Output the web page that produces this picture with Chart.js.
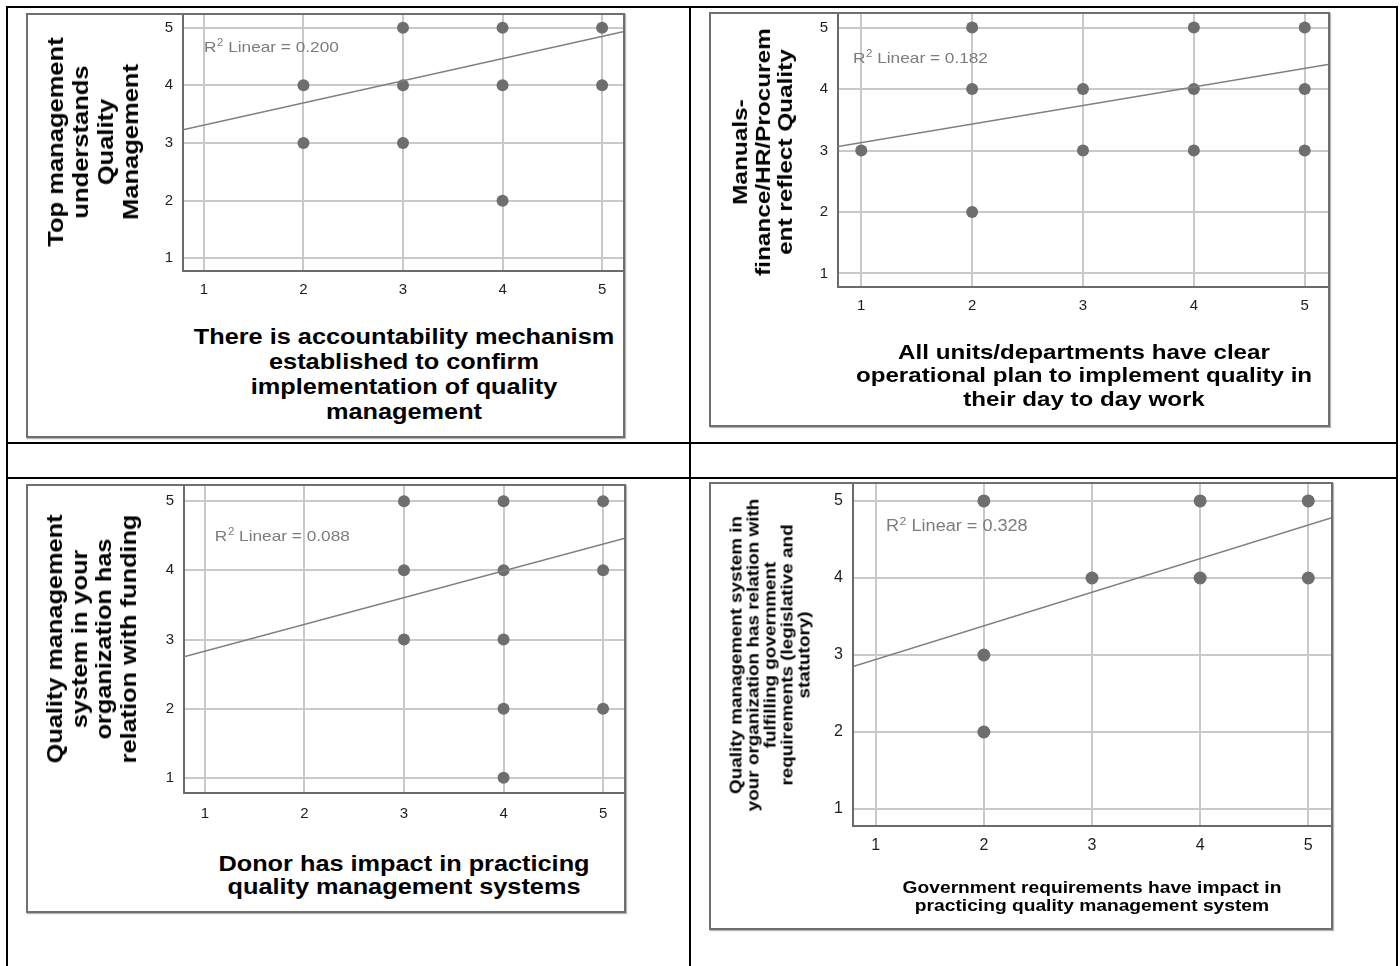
<!DOCTYPE html>
<html>
<head>
<meta charset="utf-8">
<script src="https://cdn.jsdelivr.net/npm/chart.js@4.4.1/dist/chart.umd.min.js"></script>
<style>
  html, body { margin: 0; padding: 0; background: #fff; }
  body { width: 1400px; height: 966px; position: relative; overflow: hidden; font-family: "Liberation Sans", Arial, sans-serif; }
  .rule { position: absolute; background: #000; }
  .frame { position: absolute; box-sizing: border-box; border: 2px solid #6f6f6f; box-shadow: 1px 1px 1px #b5b5b5; }
  .plot { position: absolute; }
  .title { position: absolute; white-space: nowrap; text-align: center; font-weight: bold; color: #000; }
</style>
</head>
<body>
<script>
// ---- data ----
const axisTicks = [1, 2, 3, 4, 5];
const fitX = [0.79, 5.21];

// 1. accountability mechanism vs top management understands QM
const p1X = [2, 2, 3, 3, 3, 4, 4, 4, 5, 5];
const p1Y = [4, 3, 5, 4, 3, 5, 4, 2, 5, 4];
const p1FitY = [3.23, 4.93];

// 2. operational plan vs manuals reflect quality
const p2X = [1, 2, 2, 2, 3, 3, 4, 4, 4, 5, 5, 5];
const p2Y = [3, 5, 4, 2, 4, 3, 5, 4, 3, 5, 4, 3];
const p2FitY = [3.065, 4.40];

// 3. donor impact vs relation with funding
const p3X = [3, 3, 3, 4, 4, 4, 4, 4, 5, 5, 5];
const p3Y = [5, 4, 3, 5, 4, 3, 2, 1, 5, 4, 2];
const p3FitY = [2.75, 4.46];

// 4. government requirements vs fulfilling government requirements
const p4X = [2, 2, 2, 3, 4, 4, 5, 5];
const p4Y = [5, 3, 2, 4, 5, 4, 5, 4];
const p4FitY = [2.85, 4.78];

const r2Values = ['0.200', '0.182', '0.088', '0.328'];

const xTitles = [
  ['There is accountability mechanism', 'established to confirm', 'implementation of quality', 'management'],
  ['All units/departments have clear', 'operational plan to implement quality in', 'their day to day work'],
  ['Donor has impact in practicing', 'quality management systems'],
  ['Government requirements have impact in', 'practicing quality management system']
];
const yTitles = [
  ['Top management', 'understands', 'Quality', 'Management'],
  ['Manuals-', 'finance/HR/Procurem', 'ent reflect Quality'],
  ['Quality management', 'system in your', 'organization has', 'relation with funding'],
  ['Quality management system in', 'your organization has relation with', 'fulfilling government', 'requirements (legislative and', 'statutory)']
];

// ---- layout (page pixels) ----
const panels = [
  { xs: p1X, ys: p1Y, fitY: p1FitY,
    frame: [26, 13, 599, 425], canvas: [120, 15, 503, 305], yW: 63, xH: 49,
    r: 6, tickSize: 15, xPad: 10, yPad: 10,
    r2At: [1.0, 4.57], r2Font: 15, r2Scale: 1.15,
    xt: { cx: 404, cy: 374, size: 22, lh: 25, sx: 1.15 },
    yt: { cx: 93, cy: 142, size: 22, lh: 25, sx: 1.16 } },
  { xs: p2X, ys: p2Y, fitY: p2FitY,
    frame: [709, 12, 621, 415], canvas: [770, 14, 558, 330], yW: 68, xH: 57,
    r: 6, tickSize: 15, xPad: 10, yPad: 10,
    r2At: [0.925, 4.43], r2Font: 15, r2Scale: 1.15,
    xt: { cx: 1084, cy: 375, size: 21, lh: 23.3, sx: 1.15 },
    yt: { cx: 763, cy: 152, size: 21, lh: 22.7, sx: 1.16 } },
  { xs: p3X, ys: p3Y, fitY: p3FitY,
    frame: [26, 484, 600, 429], canvas: [120, 486, 504, 357], yW: 64, xH: 50,
    r: 6, tickSize: 15, xPad: 12, yPad: 10,
    r2At: [1.10, 4.42], r2Font: 15, r2Scale: 1.15,
    xt: { cx: 404, cy: 874.5, size: 22, lh: 23.5, sx: 1.15 },
    yt: { cx: 92, cy: 639, size: 22, lh: 24.5, sx: 1.15 } },
  { xs: p4X, ys: p4Y, fitY: p4FitY,
    frame: [709, 482, 624, 448], canvas: [790, 484, 541, 400], yW: 63, xH: 58,
    r: 6.5, tickSize: 16, xPad: 10, yPad: 10,
    r2At: [1.095, 4.61], r2Font: 16, r2Scale: 1.13,
    xt: { cx: 1091.5, cy: 897, size: 16, lh: 18.4, sx: 1.2 },
    yt: { cx: 769.5, cy: 654.5, size: 16, lh: 17, sx: 1.18 } }
];

// table rules: [left, top, width, height]
const rules = [
  [6, 6, 1392, 2], [6, 442, 1392, 2], [6, 477, 1392, 2],
  [6, 6, 2, 960], [689, 6, 2, 960], [1396, 6, 2, 960]
];

const FONT = '"Liberation Sans", Arial, sans-serif';

function addDiv(cls, box) {
  const d = document.createElement('div');
  d.className = cls;
  d.style.left = box[0] + 'px';
  d.style.top = box[1] + 'px';
  d.style.width = box[2] + 'px';
  d.style.height = box[3] + 'px';
  document.body.appendChild(d);
  return d;
}

function addTitle(lines, t, rotate) {
  const d = document.createElement('div');
  d.className = 'title';
  d.style.left = t.cx + 'px';
  d.style.top = t.cy + 'px';
  d.style.fontSize = t.size + 'px';
  d.style.lineHeight = t.lh + 'px';
  d.style.transform = `translate(-50%, -50%)${rotate ? ' rotate(-90deg)' : ''} scaleX(${t.sx})`;
  d.innerHTML = lines.join('<br>');
  document.body.appendChild(d);
}

// R² annotation, anchored in data units
const r2Label = {
  id: 'r2Label',
  afterDatasetsDraw(chart, args, opts) {
    const { ctx, scales: { x, y } } = chart;
    const px = x.getPixelForValue(opts.at[0]);
    const py = y.getPixelForValue(opts.at[1]);
    ctx.save();
    ctx.translate(px, py);
    ctx.scale(opts.scale, 1);
    ctx.fillStyle = '#7c7c7c';
    ctx.textBaseline = 'alphabetic';
    ctx.font = `${opts.size}px ${FONT}`;
    ctx.fillText('R', 0, 0);
    let w = ctx.measureText('R').width;
    ctx.font = `${Math.round(opts.size * 0.68)}px ${FONT}`;
    ctx.fillText('2', w + 0.5, -opts.size * 0.4);
    w += ctx.measureText('2').width + 0.5;
    ctx.font = `${opts.size}px ${FONT}`;
    ctx.fillText(' Linear = ' + opts.value, w, 0);
    ctx.restore();
  }
};

function setTicks(scale) {
  scale.ticks = axisTicks.map(v => ({ value: v }));
}

function renderPanel(p, i) {
  addDiv('frame', p.frame);
  const c = document.createElement('canvas');
  c.className = 'plot';
  c.width = p.canvas[2];
  c.height = p.canvas[3];
  c.style.left = p.canvas[0] + 'px';
  c.style.top = p.canvas[1] + 'px';
  c.style.width = p.canvas[2] + 'px';
  c.style.height = p.canvas[3] + 'px';
  document.body.appendChild(c);

  const tickFont = { family: FONT, size: p.tickSize };
  const grid = { color: '#c9c9c9', lineWidth: 2, drawTicks: false };
  const border = { color: '#6a6a6a', width: 2 };

  new Chart(c, {
    type: 'scatter',
    data: {
      datasets: [
        {
          type: 'line',
          data: fitX.map((x, k) => ({ x, y: p.fitY[k] })),
          borderColor: '#7f7f7f',
          borderWidth: 1.5,
          pointRadius: 0,
          order: 0
        },
        {
          data: p.xs.map((x, k) => ({ x, y: p.ys[k] })),
          backgroundColor: '#6e6e6e',
          borderWidth: 0,
          pointRadius: p.r,
          order: 1
        }
      ]
    },
    options: {
      responsive: false,
      animation: false,
      events: [],
      layout: { padding: 0, autoPadding: false },
      plugins: {
        legend: { display: false },
        tooltip: { enabled: false },
        r2Label: { at: p.r2At, value: r2Values[i], size: p.r2Font, scale: p.r2Scale }
      },
      scales: {
        x: {
          type: 'linear', min: 0.79, max: 5.21,
          afterBuildTicks: setTicks,
          afterFit: s => { s.height = p.xH; s.paddingLeft = 0; s.paddingRight = 0; },
          grid, border,
          ticks: { font: tickFont, color: '#1e1e1e', padding: p.xPad, maxRotation: 0 }
        },
        y: {
          type: 'linear', min: 0.78, max: 5.22,
          afterBuildTicks: setTicks,
          afterFit: s => { s.width = p.yW; s.paddingTop = 0; s.paddingBottom = 0; },
          grid, border,
          ticks: { font: tickFont, color: '#1e1e1e', padding: p.yPad }
        }
      }
    },
    plugins: [r2Label]
  });

  addTitle(xTitles[i], p.xt, false);
  addTitle(yTitles[i], p.yt, true);
}

rules.forEach(r => addDiv('rule', r));
panels.forEach(renderPanel);
</script>
</body>
</html>
